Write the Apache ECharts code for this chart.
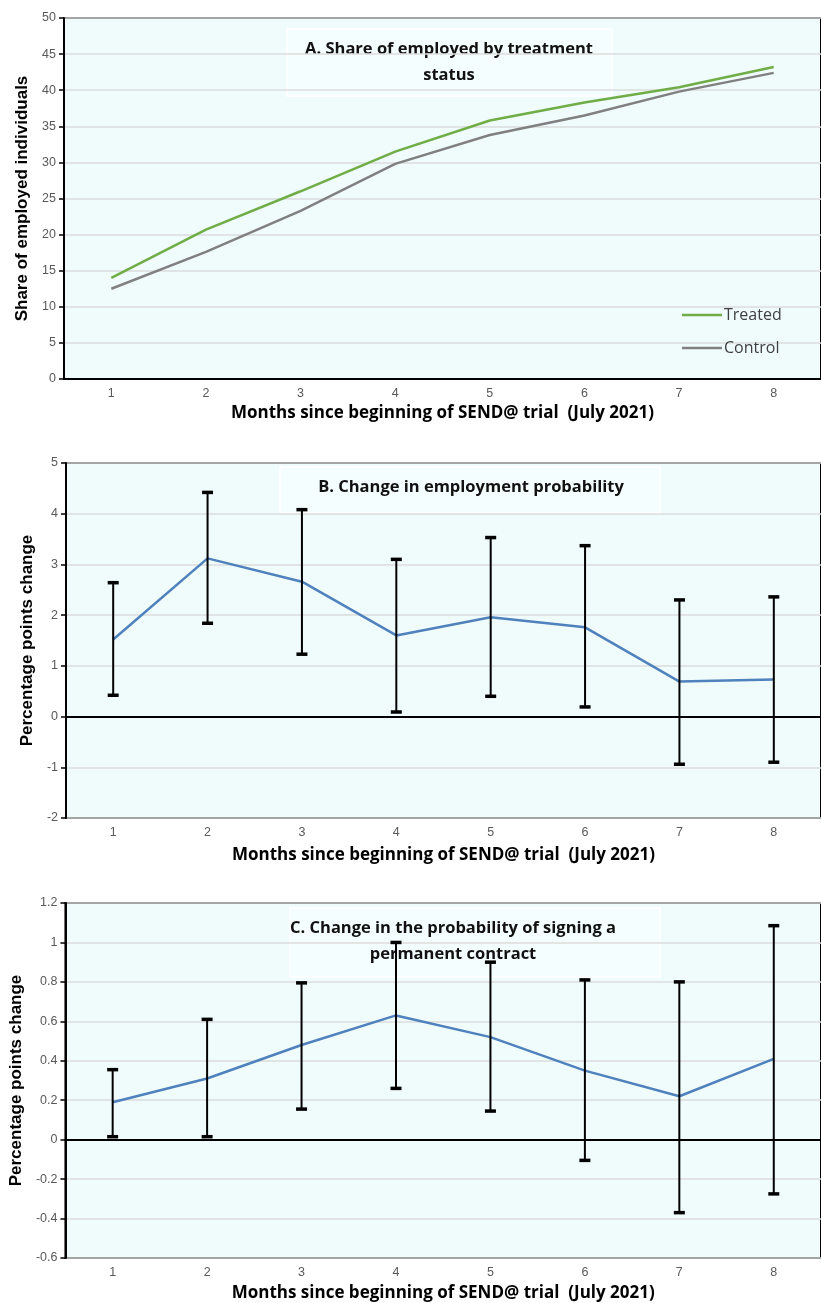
<!DOCTYPE html>
<html>
<head>
<meta charset="utf-8">
<script src="https://cdn.jsdelivr.net/npm/echarts@6/dist/echarts.min.js"></script>
<style>
  html, body { margin: 0; padding: 0; background: #ffffff; }
  #chart { width: 821px; height: 1303px; }
</style>
</head>
<body>
<div id="chart"></div>
<script>
// Months since the start of the SEND@ trial (July 2021)
const months = ['1', '2', '3', '4', '5', '6', '7', '8'];

// Panel A: share of employed individuals (%)
const treatedShare = [14.0, 20.7, 26.0, 31.5, 35.8, 38.3, 40.4, 43.2];
const controlShare = [12.5, 17.6, 23.3, 29.8, 33.8, 36.5, 39.8, 42.4];

// Panel B: change in employment probability (pp) with confidence bounds
const empEstimate = [1.52, 3.12, 2.66, 1.60, 1.96, 1.76, 0.69, 0.73];
const empLower    = [0.42, 1.84, 1.23, 0.09, 0.40, 0.19, -0.94, -0.90];
const empUpper    = [2.64, 4.42, 4.08, 3.10, 3.53, 3.37, 2.30, 2.36];

// Panel C: change in probability of signing a permanent contract (pp)
const permEstimate = [0.19, 0.31, 0.48, 0.63, 0.52, 0.35, 0.22, 0.41];
const permLower    = [0.015, 0.015, 0.155, 0.26, 0.145, -0.105, -0.37, -0.275];
const permUpper    = [0.355, 0.61, 0.795, 1.00, 0.90, 0.81, 0.80, 1.085];

const xTitle = 'Months since beginning of SEND@ trial  (July 2021)';
const plotBg = '#f0fcfc';
const tickFont = { fontFamily: 'Liberation Sans', fontSize: 12.5, color: '#595959' };
const boldSans = 'Open Sans';

function errorBar(params, api) {
  const idx = api.value(0);
  const lo = api.coord([idx, api.value(1)]);
  const hi = api.coord([idx, api.value(2)]);
  const cap = 5.5;
  const stroke = { stroke: '#000000', lineWidth: 2 };
  const capStroke = { stroke: '#000000', lineWidth: 3.5 };
  return {
    type: 'group',
    children: [
      { type: 'line', shape: { x1: lo[0], y1: lo[1], x2: hi[0], y2: hi[1] }, style: stroke },
      { type: 'line', shape: { x1: hi[0] - cap, y1: hi[1], x2: hi[0] + cap, y2: hi[1] }, style: capStroke },
      { type: 'line', shape: { x1: lo[0] - cap, y1: lo[1], x2: lo[0] + cap, y2: lo[1] }, style: capStroke }
    ]
  };
}

function boundsData(lower, upper) {
  return months.map((m, i) => [i, lower[i], upper[i]]);
}

function makeGrid(left, top, width, height) {
  return {
    left: left, top: top, width: width, height: height,
    show: true, backgroundColor: plotBg,
    borderColor: '#000000', borderWidth: 2
  };
}

function makeXAxis(gridIndex, gap) {
  return {
    type: 'category', gridIndex: gridIndex, data: months, boundaryGap: true,
    axisLine: { lineStyle: { color: '#000000', width: 2 } },
    axisTick: { show: false },
    axisLabel: Object.assign({ margin: 8 }, tickFont),
    name: xTitle, nameLocation: 'middle', nameGap: gap,
    nameTextStyle: { fontFamily: boldSans, fontWeight: 'bold', fontSize: 17, color: '#000000' }
  };
}

function makeYAxis(gridIndex, min, max, interval, name, gap) {
  return {
    type: 'value', gridIndex: gridIndex, min: min, max: max, interval: interval,
    axisLine: { show: true, lineStyle: { color: '#000000', width: 2 } },
    axisTick: { show: true, inside: false, length: 5, lineStyle: { color: '#000000', width: 1.5 } },
    axisLabel: Object.assign({ margin: 8 }, tickFont),
    splitLine: { show: true, lineStyle: { color: '#dcdcdc', width: 1.5 } },
    name: name, nameLocation: 'middle', nameGap: gap, nameRotate: 90,
    nameTextStyle: { fontFamily: 'Liberation Sans', fontWeight: 'bold', fontSize: 17, color: '#000000' }
  };
}

function titleBox(x, y, w, h, lines, cx) {
  return {
    type: 'group',
    z: 1,
    children: [
      { type: 'rect', shape: { x: x, y: y, width: w, height: h },
        style: { fill: '#f5fefe', stroke: '#ffffff', lineWidth: 1.5 } },
      { type: 'text', x: cx, y: y + 7,
        style: { text: lines, fill: '#111111', font: 'bold 16.5px "Open Sans"',
                 align: 'center', verticalAlign: 'top', lineHeight: 26 } }
    ]
  };
}

const zeroLine = {
  silent: true, symbol: 'none', label: { show: false },
  lineStyle: { color: '#000000', width: 1.5, type: 'solid' },
  data: [{ yAxis: 0 }]
};

const chart = echarts.init(document.getElementById('chart'), null, { renderer: 'canvas' });

chart.setOption({
  animation: false,
  backgroundColor: '#ffffff',
  grid: [
    makeGrid(64, 18, 767, 361),
    makeGrid(66, 463, 766, 355),
    makeGrid(62, 903, 763, 358)
  ],
  xAxis: [
    makeXAxis(0, 26),
    makeXAxis(1, 29),
    makeXAxis(2, 27)
  ],
  yAxis: [
    makeYAxis(0, 0, 50, 5, 'Share of employed individuals', 33),
    makeYAxis(1, -2, 5, 1, 'Percentage points change', 30),
    makeYAxis(2, -0.6, 1.2, 0.2, 'Percentage points change', 39)
  ],
  legend: {
    data: ['Treated', 'Control'],
    orient: 'vertical',
    left: 677, top: 301,
    itemWidth: 40, itemHeight: 2.5, itemGap: 15,
    icon: 'rect',
    textStyle: { fontFamily: 'Open Sans', fontSize: 16, color: '#404040', lineHeight: 18, padding: [0, 0, 0, -3] }
  },
  graphic: [
    titleBox(287, 29, 325, 67, 'A. Share of employed by treatment\nstatus', 449),
    titleBox(280, 467, 380, 46, 'B. Change in employment probability', 471),
    titleBox(290, 908, 370, 69, 'C. Change in the probability of signing a\npermanent contract', 453)
  ],
  series: [
    { name: 'Treated', type: 'line', xAxisIndex: 0, yAxisIndex: 0, data: treatedShare,
      symbol: 'none', z: 3, lineStyle: { color: '#70ad47', width: 2.5 }, itemStyle: { color: '#70ad47' } },
    { name: 'Control', type: 'line', xAxisIndex: 0, yAxisIndex: 0, data: controlShare,
      symbol: 'none', z: 3, lineStyle: { color: '#808080', width: 2.5 }, itemStyle: { color: '#808080' } },

    { name: 'Employment', type: 'line', xAxisIndex: 1, yAxisIndex: 1, data: empEstimate,
      symbol: 'none', z: 3, lineStyle: { color: '#4f81bd', width: 2.5 }, markLine: zeroLine },
    { name: 'Employment CI', type: 'custom', xAxisIndex: 1, yAxisIndex: 1,
      data: boundsData(empLower, empUpper), encode: { x: 0, y: [1, 2] },
      renderItem: errorBar, z: 4 },

    { name: 'Permanent', type: 'line', xAxisIndex: 2, yAxisIndex: 2, data: permEstimate,
      symbol: 'none', z: 3, lineStyle: { color: '#4f81bd', width: 2.5 }, markLine: zeroLine },
    { name: 'Permanent CI', type: 'custom', xAxisIndex: 2, yAxisIndex: 2,
      data: boundsData(permLower, permUpper), encode: { x: 0, y: [1, 2] },
      renderItem: errorBar, z: 4 }
  ]
});
</script>
</body>
</html>
